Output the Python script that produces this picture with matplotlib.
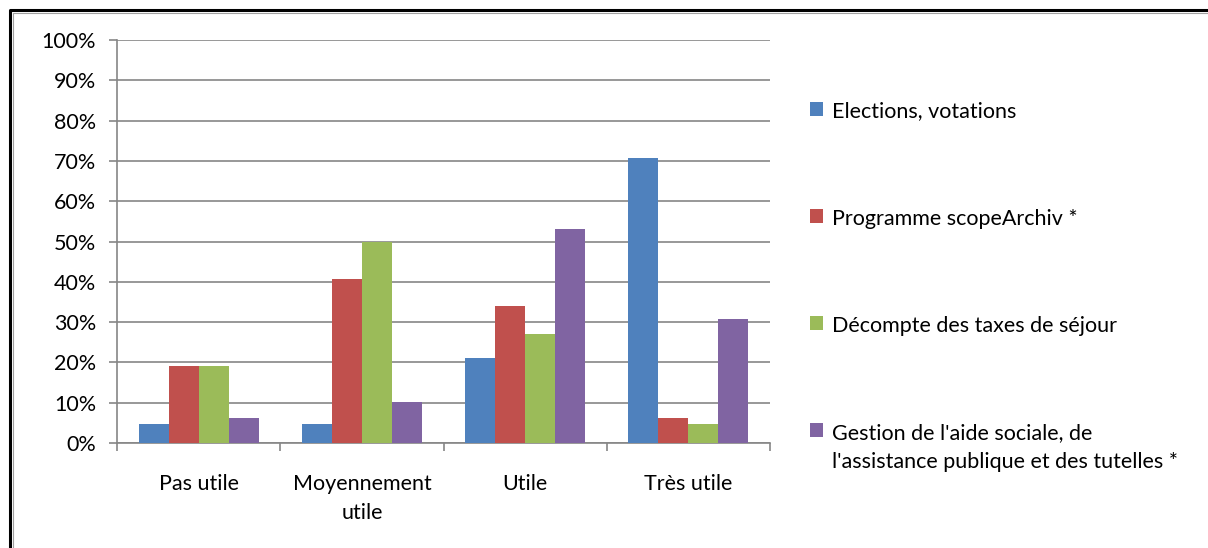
import numpy as np
import matplotlib
matplotlib.use("Agg")
import matplotlib.pyplot as plt
from matplotlib.lines import Line2D
from matplotlib.ticker import PercentFormatter

plt.rcParams['font.family'] = ['Lato', 'DejaVu Sans']

# données (en %)
categories = ["Pas utile", "Moyennement\nutile", "Utile", "Très utile"]
series = ["Elections, votations",
          "Programme scopeArchiv *",
          "Décompte des taxes de séjour",
          "Gestion de l'aide sociale, de\nl'assistance publique et des tutelles *"]
elections = [4.7, 4.7, 21.2, 70.8]
scope = [19.0, 40.6, 34.0, 6.3]
taxes = [19.0, 50.0, 27.0, 4.7]
aide = [6.3, 10.1, 53.0, 30.7]
colors = ["#4F81BD", "#C0504D", "#9BBB59", "#8064A2"]

fs = 15.5

fig = plt.figure(figsize=(12.08, 5.48), dpi=100)
ax = fig.add_axes([0.0969, 0.1916, 0.5405, 0.7354])

x = np.arange(len(categories))
w = 0.184
for i, (vals, lab, col) in enumerate(zip([elections, scope, taxes, aide], series, colors)):
    ax.bar(x + (i - 1.5) * w, vals, width=w, color=col, label=lab, zorder=3)

ax.set_xlim(-0.5, 3.5)
ax.set_ylim(0, 100)
ax.set_yticks(np.arange(0, 101, 10))
ax.yaxis.set_major_formatter(PercentFormatter(decimals=0))
ax.grid(axis='y', color='#868686', linewidth=1.2, zorder=0)

ax.set_xticks(np.arange(-0.5, 4, 1))
ax.set_xticklabels([])
ax.set_xticks(x, minor=True)
ax.set_xticklabels(categories, minor=True, fontsize=fs, linespacing=1.58)
ax.tick_params(axis='x', which='minor', length=0, pad=22)
ax.tick_params(axis='x', which='major', length=6, width=1.2, color='#868686')
ax.tick_params(axis='y', length=6, width=1.2, color='#868686', pad=9, labelsize=fs)

for s in ['top', 'right']:
    ax.spines[s].set_visible(False)
for s in ['left', 'bottom']:
    ax.spines[s].set_color('#868686')
    ax.spines[s].set_linewidth(1.2)

leg = fig.legend(loc='upper left', bbox_to_anchor=(0.6545, 0.850), frameon=False,
                 fontsize=fs, handlelength=0.62, handleheight=0.62, handletextpad=0.4,
                 labelspacing=4.05)
for t in leg.get_texts():
    t.set_linespacing(1.58)
# carré de la dernière entrée aligné sur la première ligne
for row in leg._legend_handle_box.get_children()[0].get_children():
    row.align = "top"

# cadre
fig.add_artist(Line2D([0.0085, 0.0085, 1.0], [0.0, 0.981, 0.981], transform=fig.transFigure,
                      color='black', linewidth=2.2))
fig.add_artist(Line2D([0.0105, 0.0105, 1.0], [0.0, 0.977, 0.977], transform=fig.transFigure,
                      color='#A0A0A0', linewidth=0.8))

fig.savefig("out.png", dpi=100)
